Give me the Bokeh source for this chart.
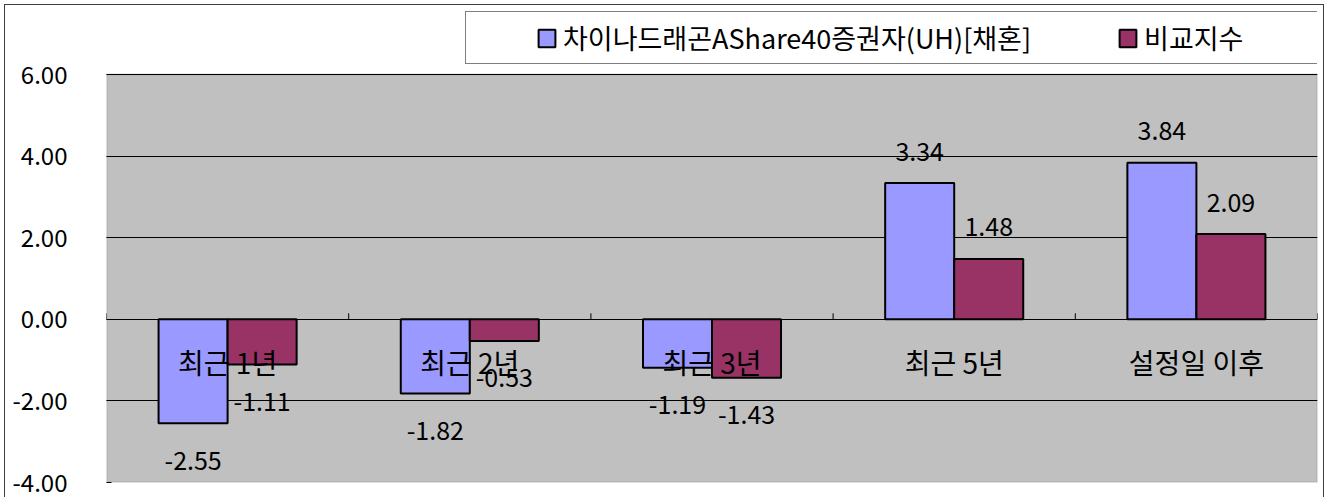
import numpy as np
from bokeh.plotting import figure
from bokeh.models import (ColumnDataSource, Range1d, FixedTicker, NumeralTickFormatter,
                          Legend, LegendItem, BoxAnnotation)
from bokeh.transform import dodge
from bokeh.core.properties import value
from bokeh.embed import file_html
from bokeh.resources import INLINE

# ---- data ----
categories = ["최근 1년", "최근 2년", "최근 3년", "최근 5년", "설정일 이후"]
fund = [-2.55, -1.82, -1.19, 3.34, 3.84]
bench = [-1.11, -0.53, -1.43, 1.48, 2.09]
series_names = ["차이나드래곤AShare40증권자(UH)[채혼]", "비교지수"]
y_ticks = [-4, -2, 0, 2, 4, 6]

# ---- style / layout ----
FONT = "Noto Sans CJK KR"
BLUE = "#9999FF"
MAROON = "#993366"
BAR_W = 0.285
OFF = BAR_W / 2

W, H = 1328, 497
PLOT_L, PLOT_R, PLOT_T, PLOT_B = 106, 1317, 74, 482   # gray plotting area (px)
FRAME_T = 8                                            # frame extends up to hold legend
px_per_unit = (PLOT_B - PLOT_T) / (y_ticks[-1] - y_ticks[0])
y_top = y_ticks[-1] + (PLOT_T - FRAME_T) / px_per_unit

xs = [i + 0.5 for i in range(len(categories))]
bounds = list(range(len(categories) + 1))


def offs(vals):
    return [-32 if v >= 0 else 37 for v in vals]


src = ColumnDataSource(dict(
    x=xs, cat=categories, fund=fund, bench=bench,
    fund_lbl=[f"{v:.2f}" for v in fund], bench_lbl=[f"{v:.2f}" for v in bench],
    fund_off=offs(fund), bench_off=offs(bench),
))
bsrc = ColumnDataSource(dict(b=bounds, z=[0] * len(bounds)))

p = figure(width=W, height=H, title=None,
           x_range=Range1d(0, len(categories)), y_range=Range1d(y_ticks[0], y_top),
           output_backend="svg", toolbar_location=None, x_axis_location=None,
           min_border_left=PLOT_L, min_border_right=W - PLOT_R,
           min_border_top=FRAME_T, min_border_bottom=H - PLOT_B,
           background_fill_color="white", border_fill_color=None)
# outer chart border on left, top and right (drawn behind the transparent border area)
p.styles = {"background-color": "white",
            "box-shadow": ("inset 4px 0 0 0 white, inset 0 4px 0 0 white, "
                           "inset -4px 0 0 0 white, inset 5px 0 0 0 #404040, "
                           "inset 0 5px 0 0 #404040, inset -5px 0 0 0 #404040")}
p.outline_line_color = None
p.xgrid.visible = False

# gray plotting area
p.add_layout(BoxAnnotation(left=0, right=len(categories), bottom=y_ticks[0], top=y_ticks[-1],
                           fill_color="#C0C0C0", fill_alpha=1,
                           line_color="#808080", line_width=2, level="image"))

# y axis
p.yaxis.ticker = FixedTicker(ticks=y_ticks)
p.yaxis.formatter = NumeralTickFormatter(format="0.00")
p.yaxis.major_label_text_font = FONT
p.yaxis.major_label_text_font_size = "24px"
p.yaxis.major_label_text_color = "black"
p.yaxis.major_label_standoff = 39
p.yaxis.major_tick_in = 5
p.yaxis.major_tick_out = 0
p.yaxis.major_tick_line_color = "black"
p.yaxis.minor_tick_line_color = None
p.yaxis.axis_line_color = None
p.ygrid.ticker = FixedTicker(ticks=y_ticks)
p.ygrid.grid_line_color = "black"
p.ygrid.grid_line_width = 1

# category boundary ticks on the zero line
p.ray(x="b", y="z", length=6, length_units="screen", angle=np.pi / 2,
      line_color="black", line_width=1, source=bsrc)

r1 = p.vbar(x=dodge("x", -OFF), top="fund", bottom=0, width=BAR_W, source=src,
            fill_color=BLUE, line_color="black", line_width=2)
r2 = p.vbar(x=dodge("x", OFF), top="bench", bottom=0, width=BAR_W, source=src,
            fill_color=MAROON, line_color="black", line_width=2)

txt = dict(text_align="center", text_baseline="middle", text_font=value(FONT),
           text_color="black", source=src)
p.text(x=dodge("x", -OFF), y="fund", text="fund_lbl", y_offset="fund_off",
       text_font_size="25px", **txt)
p.text(x=dodge("x", OFF), y="bench", text="bench_lbl", y_offset="bench_off",
       text_font_size="25px", **txt)
p.text(x="x", y=0, text="cat", y_offset=43, text_font_size="28px", **txt)

legend = Legend(
    items=[LegendItem(label=value(series_names[0]), renderers=[r1]),
           LegendItem(label=value(series_names[1]), renderers=[r2])],
    orientation="horizontal", location=(465 - PLOT_L, PLOT_B - 64), margin=0,
    label_text_font=FONT, label_text_font_size="27px", label_text_color="black",
    glyph_width=21, glyph_height=22, label_standoff=6, spacing=86, padding=6,
    label_width=174,
    title=" ", title_location="left", title_standoff=27,
    title_text_font=FONT, title_text_font_size="26px",
    border_line_color="black", border_line_width=1,
    background_fill_color="white", background_fill_alpha=1,
)
p.add_layout(legend)

open("out.html", "w").write(file_html(p, INLINE))
